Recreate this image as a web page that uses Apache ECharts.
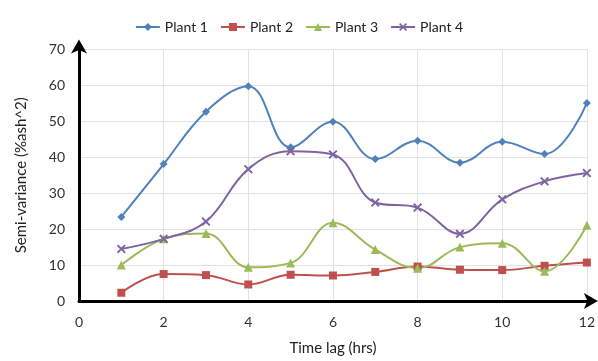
<!DOCTYPE html>
<html>
<head>
<meta charset="utf-8">
<script src="https://cdn.jsdelivr.net/npm/echarts@6/dist/echarts.min.js"></script>
<style>html,body{margin:0;padding:0;background:#fff;}#c{width:598px;height:361px;}</style>
</head>
<body>
<div id="c"></div>
<script>
var timeLag = [1,2,3,4,5,6,7,8,9,10,11,12];
var plant1 = [23.4,38.1,52.7,59.8,42.8,49.9,39.5,44.6,38.5,44.3,40.9,55.1];
var plant2 = [2.3,7.5,7.2,4.6,7.3,7.1,8.1,9.6,8.7,8.6,9.8,10.7];
var plant3 = [10.0,17.3,18.8,9.4,10.6,21.8,14.3,9.1,15.0,16.1,8.3,21.1];
var plant4 = [14.5,17.3,22.1,36.7,41.7,40.8,27.4,26.0,18.7,28.3,33.3,35.6];
var seriesNames = ['Plant 1','Plant 2','Plant 3','Plant 4'];
var xTicks = [0,2,4,6,8,10,12];

function pairs(arr){ return arr.map(function(v,i){ return [timeLag[i], v]; }); }
var xPath = 'path://M0,1.5L1.5,0L5,3.5L8.5,0L10,1.5L6.5,5L10,8.5L8.5,10L5,6.5L1.5,10L0,8.5L3.5,5Z';
var colors = ['#4F81BD','#C0504D','#9BBB59','#8064A2'];
var symbols = ['diamond','rect',  'triangle', xPath];
var sizes = [8,8,9,9];
var data = [plant1,plant2,plant3,plant4];
var font = 'Lato, "Open Sans", sans-serif';

var chart = echarts.init(document.getElementById('c'));
chart.setOption({
  animation: false,
  color: colors,
  textStyle: {fontFamily: font},
  legend: {
    top: 15, left: 'center',
    itemWidth: 24, itemHeight: 10, itemGap: 12,
    textStyle: {fontSize: 14, color: '#222', fontFamily: font},
    data: seriesNames
  },
  grid: {left: 79, right: 9, top: 49.5, bottom: 56, containLabel: false},
  xAxis: {
    type: 'value', min: 0, max: 12, interval: 2,
    name: 'Time lag (hrs)', nameLocation: 'middle', nameGap: 40,
    nameTextStyle: {fontSize: 15, color: '#222', fontFamily: font},
    axisLine: {show: true, lineStyle: {color: '#000', width: 3}, symbol: ['none','arrow'], symbolSize: [12, 14], symbolOffset: [0, 11]},
    axisTick: {show: false},
    axisLabel: {fontSize: 14, color: '#333', margin: 14, fontFamily: font,
      formatter: function(v){ return xTicks.indexOf(v) >= 0 ? String(v) : ''; }},
    splitLine: {show: true, lineStyle: {color: '#e2e2e2', width: 1}}
  },
  yAxis: {
    type: 'value', min: 0, max: 70, interval: 10,
    name: 'Semi-variance (%ash^2)', nameLocation: 'middle', nameGap: 50,
    nameTextStyle: {fontSize: 15, color: '#222', fontFamily: font},
    axisLine: {show: true, lineStyle: {color: '#000', width: 3}, symbol: ['none','arrow'], symbolSize: [12, 14], symbolOffset: [0, 10]},
    axisTick: {show: false},
    axisLabel: {fontSize: 14, color: '#333', margin: 14, fontFamily: font},
    splitLine: {show: true, lineStyle: {color: '#e2e2e2', width: 1}}
  },
  series: seriesNames.map(function(n, i){
    return {
      name: n, type: 'line', smooth: 0.4,
      data: pairs(data[i]),
      symbol: symbols[i], symbolSize: sizes[i],
      showAllSymbol: true,
      lineStyle: {color: colors[i], width: 2},
      itemStyle: {color: colors[i]}
    };
  })
});
</script>
</body>
</html>
